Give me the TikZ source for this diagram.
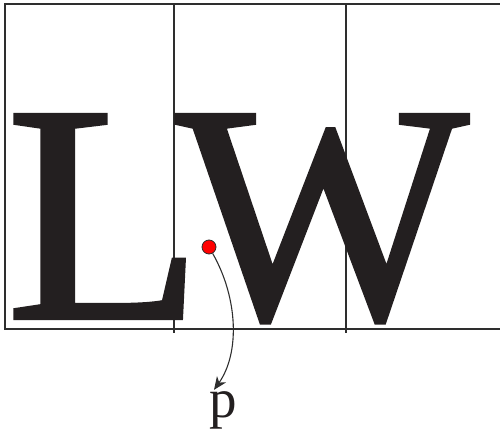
\documentclass[tikz,border=0pt]{standalone}
\usepackage{fontspec}
\setmainfont{Liberation Serif}
\newfontface\heavyserif{Liberation Serif}[FakeBold=1.3]
\usepackage{xcolor}
\usetikzlibrary{arrows.meta, positioning}
\definecolor{ink}{HTML}{231F20}
\definecolor{rule}{HTML}{2E2E2E}
\tikzset{
  gridline/.style={
    draw=rule,
    line width=1.4pt
  },
  glyph/.style={
    inner sep=0pt,
    anchor=base west,
    text=ink,
    font=\heavyserif\fontsize{310}{310}\selectfont
  },
  point/.style={
    circle,
    fill=red,
    draw=rule,
    line width=0.8pt,
    minimum size=14pt,
    inner sep=0pt
  },
  pointer/.style={
    line width=1.1pt,
    draw=rule,
    -{Stealth[length=13pt, width=11pt, inset=4pt]}
  },
  label/.style={
    text=ink,
    inner sep=2pt,
    font=\fontsize{55}{55}\selectfont
  }
}
\begin{document}
\begin{tikzpicture}[x=1pt, y=1pt]
  \useasboundingbox (0,0) rectangle (500,433);

  % Frame and columns
  \draw[gridline] (500,429) -- (5,429) -- (5,104) -- (500,104);
  \draw[gridline] (174,429) -- (174,100);
  \draw[gridline] (346,429) -- (346,100);

  % Letters
  \node (L) [glyph, xscale=1.04] at (6,115) {L};
  \node (W) [glyph] at (176,115) {W};

  % Marked point and its label
  \node (dot) [point] at (209,186) {};
  \node (p) [label, anchor=base] at (223,15) {p};
  \draw[pointer] (dot) .. controls (238,135) and (240,80) .. ([xshift=-9pt]p.north);

\end{tikzpicture}
\end{document}
